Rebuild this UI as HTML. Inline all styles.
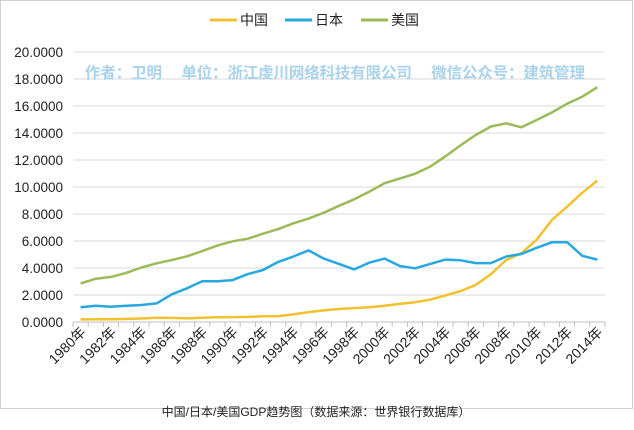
<!DOCTYPE html>
<html><head><meta charset="utf-8"><style>
body{margin:0;background:#fff;width:634px;height:425px;overflow:hidden;font-family:"Liberation Sans","Noto Sans CJK SC",sans-serif}
</style></head><body>
<svg id="s" width="634" height="425" xmlns="http://www.w3.org/2000/svg" font-family="Liberation Sans, Noto Sans CJK SC, sans-serif">
<rect x="0.5" y="0.5" width="632" height="408" fill="#fff" stroke="#d0d0d0"/>
<g id="grid"></g>
<g font-size="14" fill="#222">
<line x1="210" y1="20" x2="237" y2="20" stroke="#f2c12e" stroke-width="3"/><text x="240" y="25">中国</text>
<line x1="285" y1="20" x2="312" y2="20" stroke="#27a8e0" stroke-width="3"/><text x="315" y="25">日本</text>
<line x1="361" y1="20" x2="388" y2="20" stroke="#9bbb59" stroke-width="3"/><text x="391" y="25">美国</text>
</g>
<text x="85" y="78" font-size="15.5" font-weight="bold" fill="#a9d3ea" textLength="500" lengthAdjust="spacing">作者：卫明　 单位：浙江虔川网络科技有限公司　 微信公众号：建筑管理</text>
<g id="lines"></g>
<text x="316" y="416" font-size="12" fill="#222" text-anchor="middle">中国/日本/美国GDP趋势图（数据来源：世界银行数据库）</text>
</svg>
<script>
var us=[2.86,3.21,3.34,3.64,4.04,4.35,4.59,4.87,5.25,5.66,5.98,6.17,6.54,6.88,7.31,7.66,8.10,8.61,9.09,9.66,10.28,10.62,10.98,11.51,12.27,13.09,13.86,14.48,14.72,14.42,14.96,15.52,16.16,16.69,17.39];
var jp=[1.09,1.20,1.13,1.20,1.26,1.38,2.05,2.50,3.02,3.02,3.10,3.55,3.85,4.45,4.85,5.30,4.70,4.30,3.90,4.40,4.70,4.15,3.98,4.30,4.62,4.57,4.36,4.36,4.85,5.04,5.50,5.90,5.92,4.90,4.62];
var cn=[0.19,0.20,0.20,0.23,0.26,0.31,0.30,0.27,0.31,0.35,0.36,0.38,0.43,0.44,0.56,0.73,0.86,0.96,1.03,1.09,1.21,1.34,1.47,1.66,1.96,2.29,2.75,3.55,4.59,5.10,6.09,7.55,8.53,9.57,10.48];
var X0=73,X1=605,Y0=322,Y20=52,n=35,st=(X1-X0)/n;
function X(i){return X0+st*(i+0.5)}function Y(v){return Y0-(Y0-Y20)*v/20}
var g='';for(var k=0;k<=10;k++){var y=Y(k*2);g+='<line x1="'+X0+'" y1="'+y+'" x2="'+X1+'" y2="'+y+'" stroke="'+(k?'#d9d9d9':'#bfbfbf')+'"/>';
g+='<text x="63" y="'+(y+5)+'" font-size="13.5" fill="#222" text-anchor="end">'+(k*2).toFixed(4)+'</text>';}
for(var i=0;i<=n;i++){var x=X0+st*i;g+='<line x1="'+x+'" y1="'+Y0+'" x2="'+x+'" y2="'+(Y0+5)+'" stroke="#bfbfbf"/>';}
for(var i=0;i<n;i+=2){var x=X(i)+6;g+='<text transform="translate('+x+','+(Y0+11)+') rotate(-45)" font-size="14" fill="#222" text-anchor="end">'+(1980+i)+'年</text>';}
document.getElementById('grid').innerHTML=g;
function pl(d,c){return '<polyline fill="none" stroke="'+c+'" stroke-width="2.5" stroke-linejoin="round" points="'+d.map(function(v,i){return X(i).toFixed(1)+','+Y(v).toFixed(1)}).join(' ')+'"/>'}
document.getElementById('lines').innerHTML=pl(cn,'#f2c12e')+pl(jp,'#27a8e0')+pl(us,'#9bbb59');
</script>
</body></html>
